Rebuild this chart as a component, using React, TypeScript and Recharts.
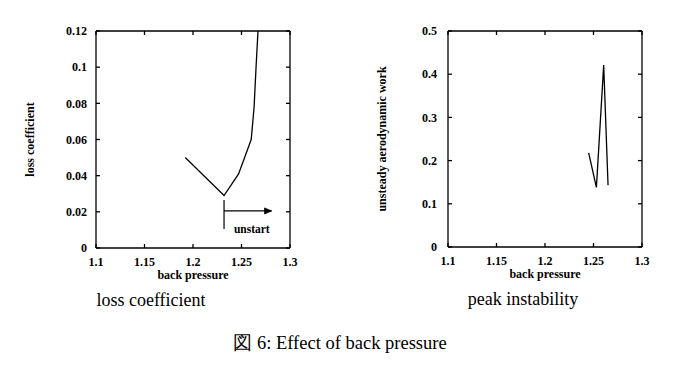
import React from 'react';
import { LineChart, Line, XAxis, YAxis, ReferenceLine, Label } from 'recharts';

// left panel: loss coefficient vs back pressure
const lossPressure = [1.192, 1.232, 1.247, 1.26, 1.263, 1.265, 1.267];
const lossCoeff = [0.05, 0.029, 0.041, 0.06, 0.078, 0.1, 0.12];

// right panel: unsteady aerodynamic work vs back pressure
const workPressure = [1.245, 1.253, 1.2605, 1.265];
const workValues = [0.218, 0.138, 0.421, 0.143];

const xTicks = [1.1, 1.15, 1.2, 1.25, 1.3];
const lossTicks = [0, 0.02, 0.04, 0.06, 0.08, 0.1, 0.12];
const workTicks = [0, 0.1, 0.2, 0.3, 0.4, 0.5];

// "unstart" marker
const unstartX = 1.232;
const unstartArrowEnd = 1.281;
const unstartArrowY = 0.0205;
const unstartBar = [0.0265, 0.0105];

const lossData = lossPressure.map((x, i) => ({ x, y: lossCoeff[i] }));
const workData = workPressure.map((x, i) => ({ x, y: workValues[i] }));

const serif = '"Liberation Serif", "Times New Roman", serif';
const tickStyle = { fontFamily: serif, fontSize: 12, fontWeight: 700, fill: '#000' };
const axisLabelStyle = { fontFamily: serif, fontSize: 12, fontWeight: 700, fill: '#000' };

const NoTick = () => <g />;

const Arrow = (p: any) => {
  const { x1, y1, x2, y2 } = p;
  return (
    <g>
      <line x1={x1} y1={y1} x2={x2} y2={y2} stroke="#000" strokeWidth={1.2} />
      <path d={`M${x2 - 7},${y2 - 3} L${x2},${y2} L${x2 - 7},${y2 + 3} Z`} fill="#000" stroke="#000" strokeWidth={0.8} />
    </g>
  );
};

function Panel({
  data,
  yTicks,
  yMax,
  yLabel,
  yAxisWidth,
  yLabelOffset,
  yTickMargin,
  rightMargin,
  bottomMargin,
  children,
}: any) {
  return (
    <LineChart
      width={yAxisWidth + 194 + rightMargin}
      height={290}
      data={data}
      margin={{ top: 30, right: rightMargin - 1, bottom: bottomMargin, left: 0 }}
    >
      <XAxis
        dataKey="x"
        type="number"
        domain={[1.1, 1.3]}
        ticks={xTicks}
        height={30}
        tickSize={-4}
        tickMargin={13}
        tick={tickStyle}
        stroke="#000"
        strokeWidth={1.3}
      >
        <Label value="back pressure" position="insideBottom" offset={-1} style={axisLabelStyle} />
      </XAxis>
      <XAxis
        xAxisId="top"
        dataKey="x"
        orientation="top"
        type="number"
        domain={[1.1, 1.3]}
        allowDataOverflow
        ticks={xTicks}
        height={1}
        tickSize={-4}
        tick={NoTick}
        stroke="#000"
        strokeWidth={1.3}
      />
      <YAxis
        type="number"
        domain={[0, yMax]}
        ticks={yTicks}
        allowDataOverflow
        width={yAxisWidth}
        tickSize={-4}
        tickMargin={yTickMargin}
        tick={tickStyle}
        stroke="#000"
        strokeWidth={1.3}
      >
        <Label
          value={yLabel}
          position="insideLeft"
          angle={-90}
          offset={yLabelOffset}
          style={{ ...axisLabelStyle, textAnchor: 'middle' }}
        />
      </YAxis>
      <YAxis
        yAxisId="right"
        orientation="right"
        type="number"
        domain={[0, yMax]}
        allowDataOverflow
        ticks={yTicks}
        width={1}
        tickSize={-4}
        tick={NoTick}
        stroke="#000"
        strokeWidth={1.3}
      />
      <Line
        dataKey="y"
        type="linear"
        stroke="#000"
        strokeWidth={1.3}
        dot={false}
        isAnimationActive={false}
      />
      {/* invisible copy so the frame axes on top/right get a domain */}
      <Line
        xAxisId="top"
        yAxisId="right"
        dataKey="y"
        stroke="none"
        dot={false}
        activeDot={false}
        legendType="none"
        isAnimationActive={false}
      />
      {children}
    </LineChart>
  );
}

export default function App() {
  return (
    <div style={{ position: 'absolute', left: 0, top: 0, width: 675, height: 371, background: '#fff', fontFamily: serif }}>
      <div style={{ position: 'absolute', left: 0, top: 0 }}>
        <Panel
          data={lossData}
          yTicks={lossTicks}
          yMax={0.12}
          yLabel="loss coefficient"
          yAxisWidth={96}
          yLabelOffset={30}
          yTickMargin={13}
          rightMargin={11}
          bottomMargin={12}
        >
          <ReferenceLine
            segment={[{ x: unstartX, y: unstartBar[0] }, { x: unstartX, y: unstartBar[1] }]}
            stroke="#000"
            strokeWidth={1.2}
          />
          <ReferenceLine
            segment={[{ x: unstartX, y: unstartArrowY }, { x: unstartArrowEnd, y: unstartArrowY }]}
            shape={Arrow}
            label={{ value: 'unstart', position: 'bottom', offset: 14, dx: 4, style: { ...axisLabelStyle, fontSize: 11.5 } } as any}
          />
        </Panel>
      </div>
      <div style={{ position: 'absolute', left: 340, top: 0 }}>
        <Panel
          data={workData}
          yTicks={workTicks}
          yMax={0.5}
          yLabel="unsteady aerodynamic work"
          yAxisWidth={108}
          yLabelOffset={42}
          yTickMargin={15}
          rightMargin={18}
          bottomMargin={13}
        />
      </div>
      <div style={{ position: 'absolute', left: 51, width: 200, top: 290, textAlign: 'center', fontSize: 18, lineHeight: '20px' }}>
        loss coefficient
      </div>
      <div style={{ position: 'absolute', left: 423, width: 200, top: 289, textAlign: 'center', fontSize: 18, lineHeight: '20px' }}>
        peak instability
      </div>
      <div style={{ position: 'absolute', left: 190, width: 300, top: 333, textAlign: 'center', fontSize: 18.5, lineHeight: '20px' }}>
        図 6: Effect of back pressure
      </div>
    </div>
  );
}
